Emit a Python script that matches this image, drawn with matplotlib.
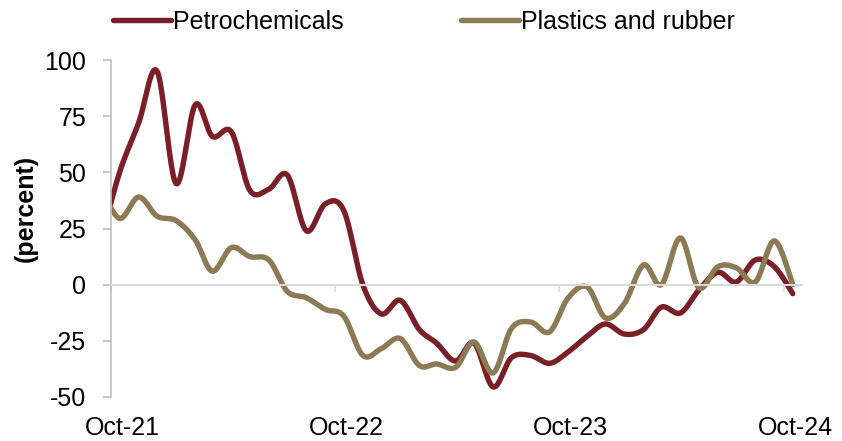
import matplotlib

matplotlib.use("Agg")
import matplotlib.dates as mdates
import matplotlib.pyplot as plt
import matplotlib.transforms as mtransforms
import numpy as np
import pandas as pd

plt.rcParams["font.family"] = ["Liberation Sans", "DejaVu Sans"]
plt.rcParams["axes.unicode_minus"] = False

# monthly observations, mid-month, Sep-21 .. Oct-24
dates = pd.date_range("2021-09-01", "2024-10-01", freq="MS") + pd.Timedelta(days=14)
petrochemicals = [20, 50, 72, 95, 45, 80, 66, 68, 42, 42.5, 48.8, 24, 36, 33,
                  0, -13, -7, -20, -26, -34, -26, -45.5, -32.5, -31.5, -35, -30,
                  -23, -17.5, -22, -20, -10, -12.6, -2.4, 5.5, 1.2, 11, 8, -4]
plastics_rubber = [43, 29.5, 39, 30.5, 28.5, 20, 6, 16.5, 12.5, 11, -3, -5.8,
                   -11, -14, -31.5, -28.5, -24, -36, -35.3, -36.8, -25.5, -39.3,
                   -19.5, -16.6, -21, -6, -1, -14.8, -8.3, 8.8, 0, 20.8, -1.4, 8,
                   7.5, 1.2, 19.5, 0]
series_names = ["Petrochemicals", "Plastics and rubber"]
series_colors = ["#7A1F27", "#8C7A55"]
tick_dates = pd.to_datetime(["2021-10-01", "2022-10-01", "2023-10-01", "2024-10-01"])
tick_labels = ["Oct-21", "Oct-22", "Oct-23", "Oct-24"]
y_ticks = [100, 75, 50, 25, 0, -25, -50]


def smooth(x, y, n=24):
    # bezier smoothing through every point, like a spreadsheet "smoothed line"
    x = np.asarray(x, float)
    y = np.asarray(y, float)
    px = np.concatenate([[x[0]], x, [x[-1]]])
    py = np.concatenate([[y[0]], y, [y[-1]]])
    t = np.linspace(0, 1, n)[:, None]
    xs, ys = [], []
    for i in range(1, len(px) - 2):
        p0 = np.array([px[i], py[i]])
        p3 = np.array([px[i + 1], py[i + 1]])
        c1 = p0 + (p3 - np.array([px[i - 1], py[i - 1]])) / 6
        c2 = p3 - (np.array([px[i + 2], py[i + 2]]) - p0) / 6
        pts = ((1 - t) ** 3) * p0 + 3 * ((1 - t) ** 2) * t * c1 + 3 * (1 - t) * t ** 2 * c2 + t ** 3 * p3
        xs.append(pts[:, 0])
        ys.append(pts[:, 1])
    return np.concatenate(xs), np.concatenate(ys)


fig = plt.figure(figsize=(8.42, 4.41), dpi=100)
ax = fig.add_axes([111 / 842, 1 - 397 / 441, (802 - 111) / 842, (397 - 60) / 441])

xnum = mdates.date2num(dates)
for vals, name, col in zip([petrochemicals, plastics_rubber], series_names, series_colors):
    sx, sy = smooth(xnum, vals)
    ax.plot(sx, sy, color=col, lw=3.9, label=name, solid_capstyle="round")

ax.set_xlim(mdates.date2num(pd.Timestamp("2021-10-01")), mdates.date2num(pd.Timestamp("2024-10-30")))
ax.set_ylim(-50, 100)
ax.set_yticks(y_ticks)

for s in ["top", "right"]:
    ax.spines[s].set_visible(False)
ax.spines["left"].set_color("#BFBFBF")
ax.spines["left"].set_linewidth(1.2)
ax.spines["bottom"].set_position(("data", 0))
ax.spines["bottom"].set_color("#D9D9D9")
ax.spines["bottom"].set_linewidth(1.5)

ax.set_xticks(mdates.date2num(tick_dates))
ax.tick_params(axis="x", direction="out", length=5, width=1.2, color="#D9D9D9", labelbottom=False)
ax.tick_params(axis="y", direction="out", length=6, width=1.2, color="#BFBFBF", labelsize=18, pad=12)

shift = mtransforms.ScaledTranslation(11 / 100, 0, fig.dpi_scale_trans)
trans = mtransforms.blended_transform_factory(ax.transData, ax.transAxes) + shift
for d, lab in zip(tick_dates, tick_labels):
    ax.text(mdates.date2num(d), -31 / 337, lab, transform=trans, ha="center", va="center", fontsize=18)

ax.set_ylabel("(percent)", fontsize=18, fontweight="bold")
ax.yaxis.set_label_coords(-73 / 691, 0.56)

fig.legend(loc="center left", bbox_to_anchor=(113 / 842, 1 - 22 / 441), ncol=2, frameon=False,
           fontsize=18, handlelength=2.3, handletextpad=0.1, columnspacing=4.7,
           borderpad=0, borderaxespad=0)

fig.savefig("out.png", dpi=100)
